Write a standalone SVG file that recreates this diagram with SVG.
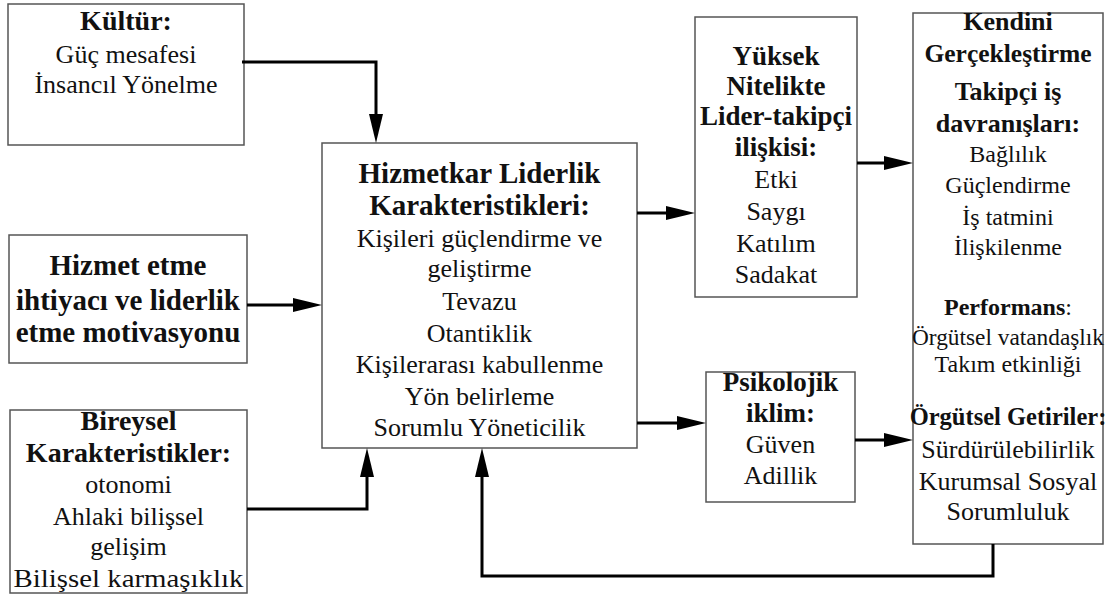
<svg xmlns="http://www.w3.org/2000/svg" width="1110" height="599" viewBox="0 0 1110 599">
  <defs>
    <style>
      .box { fill: #ffffff; stroke: #555555; stroke-width: 1.5; }
      .t { font-family: "Liberation Serif", "Times New Roman", serif; font-size: 26px; fill: #111111; text-anchor: middle; }
      .b { font-weight: bold; font-size: 28px; }
      .s { font-size: 24px; }
      .sb { font-weight: bold; font-size: 26px; }
      .wire { fill: none; stroke: #000000; stroke-width: 3; }
    </style>
    <marker id="ah" markerWidth="29" markerHeight="14" refX="14" refY="7" orient="auto" markerUnits="userSpaceOnUse">
      <path d="M0,0 L29,7 L0,14 z" fill="#000000"/>
    </marker>
  </defs>
  <rect width="1110" height="599" fill="#ffffff"/>

  <!-- Culture -->
  <g id="kultur">
    <rect class="box" x="8" y="4" width="236" height="141"/>
    <text class="t b" x="126" y="30">Kültür:</text>
    <text class="t" x="126" y="63">Güç mesafesi</text>
    <text class="t" x="126" y="93">İnsancıl Yönelme</text>
  </g>

  <!-- Motivation -->
  <g id="motivasyon">
    <rect class="box" x="9" y="235" width="238" height="128"/>
    <text class="t b" x="128" y="275" style="font-size:29px">Hizmet etme</text>
    <text class="t b" x="128" y="310" style="font-size:29px">ihtiyacı ve liderlik</text>
    <text class="t b" x="128" y="342" style="font-size:29px">etme motivasyonu</text>
  </g>

  <!-- Individual characteristics -->
  <g id="bireysel">
    <rect class="box" x="10" y="410" width="237" height="183"/>
    <text class="t b" x="128.5" y="430">Bireysel</text>
    <text class="t b" x="128.5" y="462">Karakteristikler:</text>
    <text class="t" x="128.5" y="493">otonomi</text>
    <text class="t" x="128.5" y="525">Ahlaki bilişsel</text>
    <text class="t" x="128.5" y="555">gelişim</text>
    <text class="t" x="128.5" y="587" textLength="230" lengthAdjust="spacingAndGlyphs">Bilişsel karmaşıklık</text>
  </g>

  <!-- Servant leadership characteristics -->
  <g id="hizmetkar">
    <rect class="box" x="322" y="143" width="315" height="305"/>
    <text class="t b" x="479.5" y="183" style="font-size:29px">Hizmetkar Liderlik</text>
    <text class="t b" x="479.5" y="215" style="font-size:29px">Karakteristikleri:</text>
    <text class="t" x="479.5" y="247">Kişileri güçlendirme ve</text>
    <text class="t" x="479.5" y="277">geliştirme</text>
    <text class="t" x="479.5" y="310">Tevazu</text>
    <text class="t" x="479.5" y="342">Otantiklik</text>
    <text class="t" x="479.5" y="373">Kişilerarası kabullenme</text>
    <text class="t" x="479.5" y="405">Yön belirleme</text>
    <text class="t" x="479.5" y="436">Sorumlu Yöneticilik</text>
  </g>

  <!-- Leader-member exchange -->
  <g id="yuksek">
    <rect class="box" x="695" y="17" width="162" height="280"/>
    <text class="t b" x="776" y="65" style="font-size:27px">Yüksek</text>
    <text class="t b" x="776" y="95" style="font-size:27px">Nitelikte</text>
    <text class="t b" x="776" y="125" style="font-size:27px">Lider-takipçi</text>
    <text class="t b" x="776" y="156" style="font-size:27px">ilişkisi:</text>
    <text class="t" x="776" y="188">Etki</text>
    <text class="t" x="776" y="220">Saygı</text>
    <text class="t" x="776" y="252">Katılım</text>
    <text class="t" x="776" y="283">Sadakat</text>
  </g>

  <!-- Psychological climate -->
  <g id="psikolojik">
    <rect class="box" x="706" y="372" width="149" height="130"/>
    <text class="t b" x="780.5" y="391" style="font-size:27px">Psikolojik</text>
    <text class="t b" x="780.5" y="422" style="font-size:27px">iklim:</text>
    <text class="t" x="780.5" y="453">Güven</text>
    <text class="t" x="780.5" y="484">Adillik</text>
  </g>

  <!-- Outcomes -->
  <g id="kendini">
    <rect class="box" x="913" y="13" width="190" height="531"/>
    <text class="t sb" x="1008" y="30">Kendini</text>
    <text class="t sb" x="1008" y="62" style="font-size:25.5px">Gerçekleştirme</text>
    <text class="t sb" x="1008" y="100">Takipçi iş</text>
    <text class="t sb" x="1008" y="132">davranışları:</text>
    <text class="t s" x="1008" y="162">Bağlılık</text>
    <text class="t s" x="1008" y="193">Güçlendirme</text>
    <text class="t s" x="1008" y="225">İş tatmini</text>
    <text class="t s" x="1008" y="255">İlişkilenme</text>
    <text class="t s" x="1008" y="315"><tspan font-weight="bold">Performans</tspan>:</text>
    <text class="t s" x="1008" y="345" textLength="192" lengthAdjust="spacingAndGlyphs">Örgütsel vatandaşlık</text>
    <text class="t s" x="1008" y="372">Takım etkinliği</text>
    <text class="t sb" x="1008" y="425" style="font-size:24.5px">Örgütsel Getiriler:</text>
    <text class="t" x="1008" y="458">Sürdürülebilirlik</text>
    <text class="t" x="1008" y="490">Kurumsal Sosyal</text>
    <text class="t" x="1008" y="520">Sorumluluk</text>
  </g>

  <!-- Connectors -->
  <g id="connectors">
    <path class="wire" d="M242,62 H376 V128" marker-end="url(#ah)"/>
    <path class="wire" d="M247,305 H307" marker-end="url(#ah)"/>
    <path class="wire" d="M247,509 H367 V463" marker-end="url(#ah)"/>
    <path class="wire" d="M637,213 H680" marker-end="url(#ah)"/>
    <path class="wire" d="M637,423 H691" marker-end="url(#ah)"/>
    <path class="wire" d="M857,163 H898" marker-end="url(#ah)"/>
    <path class="wire" d="M855,440 H898" marker-end="url(#ah)"/>
    <path class="wire" d="M993,544 V576 H482 V463" marker-end="url(#ah)"/>
  </g>
</svg>
